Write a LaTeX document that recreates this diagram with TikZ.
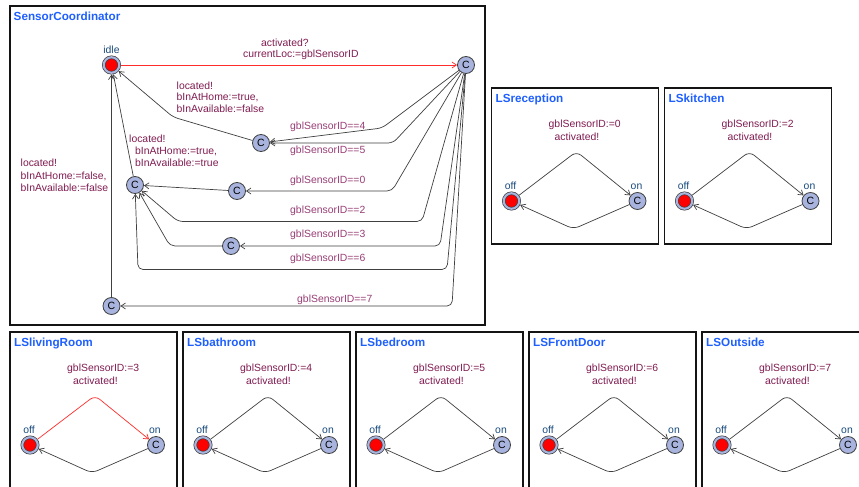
\documentclass[tikz,border=0pt]{standalone}
\usepackage{fontspec}
\setmainfont{Liberation Sans}
\usetikzlibrary{arrows.meta}

\definecolor{locfill}{RGB}{168,180,222}
\definecolor{titleblue}{RGB}{30,95,255}
\definecolor{synccol}{RGB}{128,28,82}
\definecolor{guardcol}{RGB}{152,62,118}
\definecolor{namecol}{RGB}{25,75,125}
\definecolor{edgecol}{RGB}{64,64,64}
\definecolor{activecol}{RGB}{255,45,45}
\definecolor{framecol}{RGB}{20,20,20}

\newcommand\lblfont{\fontsize{10.4}{12}\selectfont}

\begin{document}
\begin{tikzpicture}[x=1pt,y=-1pt,
  frame/.style={draw=framecol, line width=1.1pt},
  ptitle/.style={anchor=base west, inner sep=0pt, text=titleblue,
    font=\fontsize{11.7}{14}\selectfont\bfseries},
  loc/.style={circle, draw=black!75, line width=0.8pt, fill=locfill,
    minimum size=17pt, inner sep=0pt, font=\fontsize{10.5}{12}\selectfont},
  initloc/.style={circle, draw=black!75, line width=0.7pt, double=locfill,
    double distance=2.1pt, fill=red, minimum size=15.5pt, inner sep=0pt,
    outer sep=1.75pt},
  lname/.style={anchor=base, inner sep=0pt, text=namecol, font=\lblfont},
  sync/.style={anchor=base west, inner sep=0pt, text=synccol, font=\lblfont},
  upd/.style={anchor=north west, inner sep=0pt, text=synccol, font=\lblfont,
    align=left},
  guard/.style={anchor=base west, inner sep=0pt, text=guardcol, font=\lblfont},
  edge/.style={draw=edgecol, line width=0.7pt, rounded corners=5pt,
    -{Straight Barb[length=4.5pt,width=6pt]}},
  activeedge/.style={edge, draw=activecol}
]
\useasboundingbox (0,0) rectangle (859,487);
\fill[white] (0,0) rectangle (859,487);
\clip (0,0) rectangle (859,487);

% ---------------- SensorCoordinator ----------------
\draw[frame] (10,6) rectangle (485,325);
\node[ptitle] (sctitle) at (13.5,20.5) {SensorCoordinator};

\node[initloc] (idle) at (111.5,65) {};
\node[lname] (idlename) at (111.5,54) {idle};
\node[loc] (cact) at (466,65) {C};
\node[loc] (cout) at (261,143) {C};
\node[loc] (cin) at (135,185) {C};
\node[loc] (czero) at (237,191) {C};
\node[loc] (cthree) at (231,246) {C};
\node[loc] (cfar) at (111.5,306) {C};

% activation
\draw[activeedge] (idle) -- (cact);
\node[sync] (actlbl) at (261,47) {activated?};
\node[sync] (curlbl) at (243,57.5) {currentLoc:=gblSensorID};

% branches on the sensor id
\draw[edge] (cact) -- (382,128) -- (cout);
\draw[edge] (cact) -- (393,143) -- (cout);
\draw[edge] (cact) -- (392,191) -- (czero);
\draw[edge] (cact) -- (422,221.5) -- (178,221.5) -- (cin);
\draw[edge] (cact) -- (440,246) -- (cthree);
\draw[edge] (cact) -- (447,269.5) -- (138,269.5) -- (cin);
\draw[edge] (cact) -- (452,306) -- (cfar);
\node[guard] (g4) at (290,129.5) {gblSensorID==4};
\node[guard] (g5) at (290,153) {gblSensorID==5};
\node[guard] (g0) at (290,183.5) {gblSensorID==0};
\node[guard] (g2) at (290,213) {gblSensorID==2};
\node[guard] (g3) at (290,237) {gblSensorID==3};
\node[guard] (g6) at (290,261.5) {gblSensorID==6};
\node[guard] (g7) at (297,302.5) {gblSensorID==7};

% intermediate hops
\draw[edge] (czero) -- (cin);
\draw[edge] (cthree) -- (170,246) -- (cin);

% back to idle
\draw[edge] (cout) -- (173,117) -- (idle);
\node[sync] (loc1) at (176.5,89) {located!};
\node[upd] (upd1) at (176.5,93) {bInAtHome:=true,\\bInAvailable:=false};

\draw[edge] (cin) -- (idle);
\node[sync] (loc2) at (129,142) {located!};
\node[upd] (upd2) at (135,146.5) {bInAtHome:=true,\\bInAvailable:=true};

\draw[edge] (cfar) -- (idle);
\node[sync] (loc3) at (20.5,166) {located!};
\node[upd] (upd3) at (20.5,171.5) {bInAtHome:=false,\\bInAvailable:=false};

% ---------------- sensor templates ----------------
\foreach \L/\T/\B/\name/\id/\ecol in {
    491.5/88/244/LSreception/0/edgecol,
    664.5/88/244/LSkitchen/2/edgecol,
    10/332/520/LSlivingRoom/3/activecol,
    183/332/520/LSbathroom/4/edgecol,
    356/332/520/LSbedroom/5/edgecol,
    529/332/520/LSFrontDoor/6/edgecol,
    702/332/520/LSOutside/7/edgecol} {
  \draw[frame] (\L,\T) rectangle ({\L+167},\B);
  \node[ptitle] (title\id) at ({\L+4},{\T+14}) {\name};
  \node[initloc] (off\id) at ({\L+20},{\T+113}) {};
  \node[loc] (on\id) at ({\L+146},{\T+113}) {C};
  \node[lname] (offname\id) at ({\L+19},{\T+101}) {off};
  \node[lname] (onname\id) at ({\L+145},{\T+101}) {on};
  \draw[edge, rounded corners=6pt, draw=\ecol] (off\id) -- ({\L+85},{\T+63.5}) -- (on\id);
  \draw[edge, rounded corners=6pt] (on\id) -- ({\L+82},{\T+141}) -- (off\id);
  \node[sync] (set\id) at ({\L+57},{\T+39}) {gblSensorID:=\id};
  \node[sync] (emit\id) at ({\L+63},{\T+52}) {activated!};
}
\end{tikzpicture}
\end{document}
